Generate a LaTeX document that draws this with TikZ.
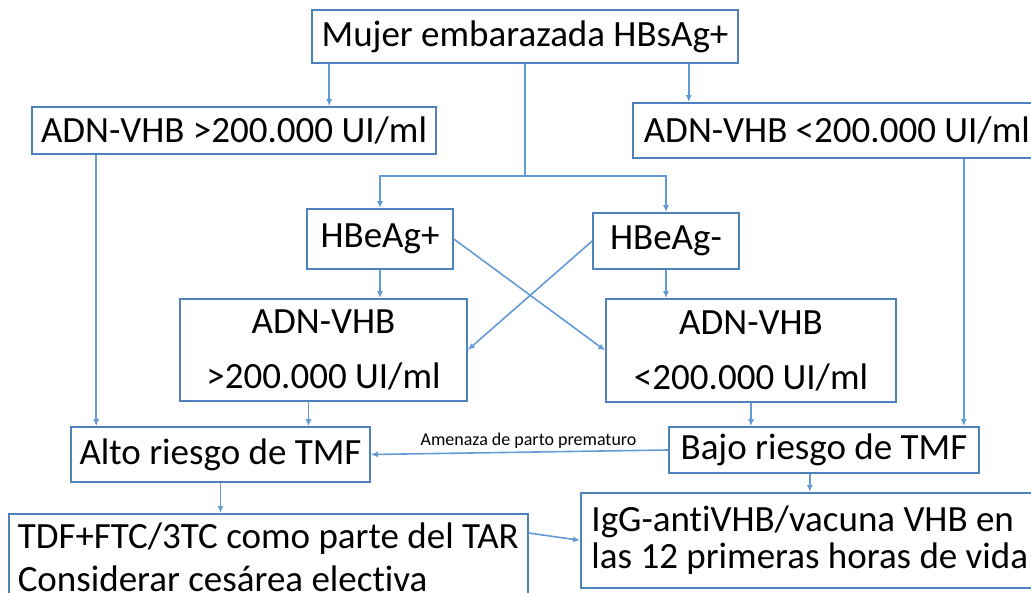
\documentclass[tikz,border=0pt]{standalone}
\usepackage{fontspec}
\setmainfont{Carlito}[Ligatures=NoCommon]
\usepackage{tikz}
\usetikzlibrary{arrows.meta, positioning, calc}
\definecolor{boxblue}{RGB}{79,129,189}
\definecolor{lineblue}{RGB}{100,155,215}
\tikzstyle{box} = [draw=boxblue, line width=1.6pt, fill=white, inner sep=0pt, font=\fontsize{37}{44}\selectfont]
\tikzstyle{line} = [lineblue, line width=1.6pt]
\tikzstyle{arrow} = [line, -{Latex[length=7pt,width=6pt]}]

\begin{document}
\begin{tikzpicture}[x=1pt, y=-1pt]
\useasboundingbox (0,0) rectangle (1031,593);
\clip (0,0) rectangle (1031,593);

% Top
\node[box, minimum width=426, minimum height=53] (mujer) at (525,36.5) {Mujer embarazada HBsAg+};

% Viral load, first row
\node[box, minimum width=404, minimum height=47] (dnaAlta) at (234,130.5) {ADN-VHB >200.000 UI/ml};
\node[box, anchor=west, minimum width=408, minimum height=55] (dnaBaja) at (632,130.5) {ADN-VHB <200.000 UI/ml};

% HBeAg
\node[box, minimum width=146, minimum height=60] (hbePos) at (380,239) {HBeAg+};
\node[box, minimum width=146, minimum height=56] (hbeNeg) at (666,241) {HBeAg-};

% Viral load, second row
\node[box, minimum width=287, minimum height=102, align=center, font=\fontsize{37}{55}\selectfont] (dnaPos) at (323.5,350) {ADN-VHB\\>200.000 UI/ml};
\node[box, minimum width=290, minimum height=103, align=center, font=\fontsize{37}{55}\selectfont] (dnaNeg) at (751,350.5) {ADN-VHB\\<200.000 UI/ml};

% Risk
\node[box, minimum width=299, minimum height=55] (alto) at (220.5,454.5) {Alto riesgo de TMF};
\node[box, minimum width=310, minimum height=46] (bajo) at (824,450) {Bajo riesgo de TMF};

% Actions
\node[box, anchor=north west, minimum width=519, minimum height=86, align=left, font=\fontsize{37}{43}\selectfont] (tdf) at (8,513) {TDF+FTC/3TC como parte del TAR\\Considerar cesárea electiva};
\node[box, anchor=north west, minimum width=458, minimum height=95, align=left, font=\fontsize{37}{37}\selectfont] (igg) at (580,492) {IgG-antiVHB/vacuna VHB en\\las 12 primeras horas de vida};

% Connectors
\coordinate (split) at ($(mujer.south)+(0,112)$);
\draw[line] (mujer.south) -- (split);
\draw[arrow] (split) -| (hbePos.north);
\draw[arrow] (split) -| (hbeNeg.north);
\coordinate (tapA) at ([xshift=18]mujer.south west);
\draw[arrow] (tapA) -- (tapA |- dnaAlta.north);
\coordinate (tapB) at ([xshift=-50]mujer.south east);
\draw[arrow] (tapB) -- (tapB |- dnaBaja.north);

\draw[arrow] (hbePos.south) -- (hbePos.south |- dnaPos.north);
\draw[arrow] (hbeNeg.south) -- (hbeNeg.south |- dnaNeg.north);
\draw[arrow] (hbePos.east) -- (dnaNeg.west);
\draw[arrow] (hbeNeg.west) -- (dnaPos.east);

\coordinate (dropA) at ([xshift=26]alto.north west);
\draw[arrow] (dropA |- dnaAlta.south) -- (dropA);
\coordinate (dropB) at ([xshift=-16]bajo.north east);
\draw[arrow] (dropB |- dnaBaja.south) -- (dropB);
\coordinate (dropC) at ([xshift=-15]dnaPos.south);
\draw[arrow] (dropC) -- (dropC |- alto.north);
\draw[arrow] (dnaNeg.south) -- (dnaNeg.south |- bajo.north);

\draw[arrow] (bajo.west) -- node[midway, above, inner sep=3pt, xshift=9, text=black, font=\fontsize{18}{20}\selectfont] (threat) {Amenaza de parto prematuro} (alto.east);

\draw[arrow] (alto.south) -- (alto.south |- tdf.north);
\draw[arrow] (igg.north |- bajo.south) -- (igg.north);
\draw[arrow] ([yshift=-20]tdf.north east) -- (igg.west);
\end{tikzpicture}
\end{document}
